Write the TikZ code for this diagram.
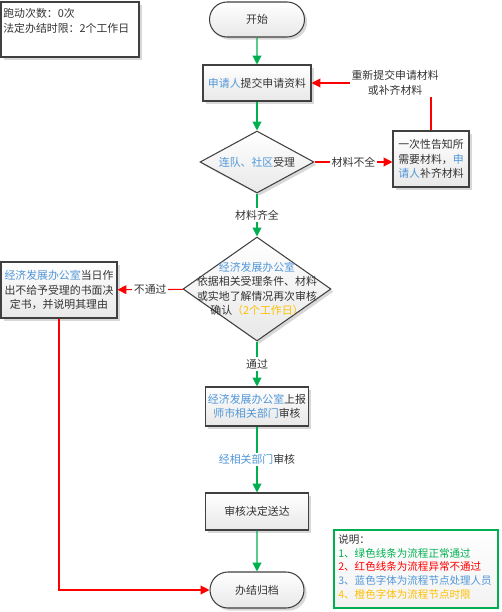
\documentclass[tikz,border=0pt]{standalone}
\usepackage{fontspec}
\setmainfont{Noto Sans CJK SC}
\usetikzlibrary{shapes.geometric,shapes.misc,shadows,arrows.meta}

\definecolor{okgreen}{RGB}{0,176,80}
\definecolor{badred}{RGB}{255,0,0}
\definecolor{whoblue}{RGB}{80,150,215}
\definecolor{timeorange}{RGB}{255,192,0}
\definecolor{edgegray}{RGB}{64,64,64}
\newcommand\flowfont{\fontsize{6.2}{8.3}\selectfont}

\tikzset{
  shade/.style={top color=white, bottom color=black!9,
    drop shadow={shadow xshift=1.5pt, shadow yshift=-1.5pt, fill=black!30}},
  box/.style={shade, draw=edgegray, line width=0.6pt, align=center, inner sep=0pt,
    font=\flowfont, text=black!80},
  term/.style={box, rounded rectangle},
  dia/.style={box, diamond},
  ok/.style={draw=okgreen, line width=0.65pt, -{Triangle[length=5pt,width=5pt]}},
  bad/.style={draw=badred, line width=0.65pt, -{Triangle[length=5pt,width=5pt]}},
  lbl/.style={fill=white, inner sep=1pt, font=\flowfont, text=black!80, align=center}
}

\begin{document}
\begin{tikzpicture}[x=0.02cm, y=-0.02cm]
  \useasboundingbox (0,0) rectangle (502,612);

  % time limits
  \node[draw=edgegray, line width=0.6pt, fill=white, minimum width=2.76cm, minimum height=1.1cm,
        drop shadow={shadow xshift=1.5pt, shadow yshift=-1.5pt, fill=black!30}] (info) at (70,29.5) {};
  \node[anchor=north west, inner sep=0pt, align=left, font=\flowfont, text=black!80] (infotext) at (3,8)
    {跑动次数：0次\\法定办结时限：2个工作日};

  % flow nodes
  \node[term, minimum width=1.9cm, minimum height=0.7cm] (start) at (257,19.5) {开始};
  \node[box, minimum width=2.16cm, minimum height=0.72cm] (apply) at (257,83)
    {{\color{whoblue}申请人}提交申请资料};
  \node[dia, minimum width=2.28cm, minimum height=1.24cm] (accept) at (257,162) {};
  \node[font=\flowfont, text=black!80] (accepttext) at (accept) {{\color{whoblue}连队、社区}受理};
  \node[box, minimum width=1.52cm, minimum height=1.12cm] (notify) at (431,159)
    {一次性告知所\\需要材料，{\color{whoblue}申}\\{\color{whoblue}请人}补齐材料};
  \node[dia, minimum width=2.96cm, minimum height=2.08cm] (check) at (257,289) {};
  \node[font=\flowfont, text=black!80, align=center, inner sep=0pt] (checktext) at (check)
    {{\color{whoblue}经济发展办公室}\\依据相关受理条件、材料\\或实地了解情况再次审核\\确认{\color{timeorange}（2个工作日）}};
  \node[box, minimum width=2.32cm, minimum height=1.12cm] (reject) at (59,290)
    {{\color{whoblue}经济发展办公室}当日作\\出不给予受理的书面决\\定书，并说明其理由};
  \node[box, minimum width=2.06cm, minimum height=0.78cm] (report) at (257,406.5)
    {{\color{whoblue}经济发展办公室}上报\\{\color{whoblue}师市相关部门}审核};
  \node[box, minimum width=2.06cm, minimum height=0.74cm] (deliver) at (257,511.5) {审核决定送达};
  \node[term, minimum width=1.88cm, minimum height=0.72cm] (finish) at (257,590) {办结归档};

  % connectors
  \draw[ok] (start) -- (apply);
  \draw[ok] (apply) -- (accept);
  \draw[bad] (accept.east) -- node[lbl] {材料不全} (accept.east -| notify.west);
  \draw[bad] (notify.north) |- node[lbl, pos=0.65] {重新提交申请材料\\或补齐材料} (apply.east);
  \draw[ok] (accept) -- node[lbl] {材料齐全} (check);
  \draw[bad] (check) -- node[lbl] {不通过} (reject);
  \draw[ok] (check) -- node[lbl] {通过} (report);
  \draw[ok] (report) -- node[lbl] {{\color{whoblue}经相关部门}审核} (deliver);
  \draw[ok] (deliver) -- (finish);
  \draw[bad] (reject) |- (finish);

  % legend
  \node[draw=okgreen, line width=0.8pt, top color=white, bottom color=black!5,
        minimum width=3.28cm, minimum height=1.56cm] (legend) at (416,569) {};
  \node[anchor=north west, inner sep=0pt, align=left, font=\fontsize{6}{7.9}\selectfont] (legendtext) at (338,534)
    {{\color{black!80}说明：}\\
     {\color{okgreen}1、绿色线条为流程正常通过}\\
     {\color{badred}2、红色线条为流程异常不通过}\\
     {\color{whoblue}3、蓝色字体为流程节点处理人员}\\
     {\color{timeorange}4、橙色字体为流程节点时限}};
\end{tikzpicture}
\end{document}
